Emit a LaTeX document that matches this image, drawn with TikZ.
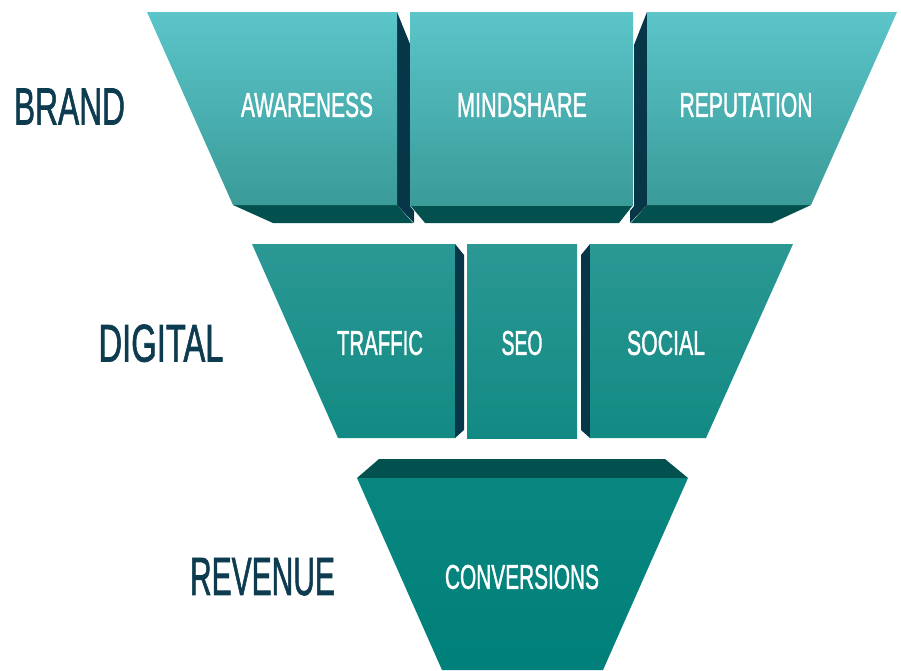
\documentclass[tikz,border=0pt]{standalone}
\usepackage{fontspec}
\setmainfont{Liberation Sans}
\newfontfamily\lblfont{Liberation Sans}[FakeBold=1.6]
\definecolor{navy}{HTML}{073649}
\definecolor{slab}{HTML}{03514F}
\definecolor{topA}{HTML}{5BC5C9}
\definecolor{topB}{HTML}{3A9B99}
\definecolor{midA}{HTML}{2B9894}
\definecolor{midB}{HTML}{128A83}
\definecolor{botA}{HTML}{0A8680}
\definecolor{botB}{HTML}{00807A}
\definecolor{ink}{HTML}{0D3B4F}
\tikzset{
  toprow/.style={top color=topA,bottom color=topB},
  midrow/.style={top color=midA,bottom color=midB},
  botrow/.style={top color=botA,bottom color=botB},
  sidepanel/.style={fill=navy},
  slabpanel/.style={fill=slab},
  stagelbl/.style={text=white,inner sep=0pt,font=\lblfont},
  tierlbl/.style={text=ink,inner sep=0pt,font=\lblfont}
}
\newcommand{\fitlbl}[3]{\resizebox{#1pt}{#2pt}{#3}}
\begin{document}
\begin{tikzpicture}[x=1pt,y=-1pt]
\useasboundingbox (0,0) rectangle (901,670);
% ---------- top row: brand ----------
\fill[slabpanel] (233,205) -- (397,205) -- (413,223) -- (273,223) -- cycle;
\fill[sidepanel] (397,12) -- (410,44) -- (410,206) -- (414,211) -- (414,223) -- (397,205) -- cycle;
\shade[toprow] (147,12) -- (397,12) -- (397,205) -- (233,205) -- cycle;
\fill[slabpanel] (410,205) -- (633,205) -- (619,223) -- (425,223) -- cycle;
\shade[toprow] (410,12) -- (633,12) -- (633,205) -- (410,205) -- cycle;
\fill[slabpanel] (647,205) -- (811,205) -- (772,223) -- (631,223) -- cycle;
\fill[sidepanel] (647,12) -- (634,45) -- (634,206) -- (630,211) -- (630,223) -- (647,205) -- cycle;
\shade[toprow] (647,12) -- (897,12) -- (811,205) -- (647,205) -- cycle;
% ---------- middle row: digital ----------
\shade[midrow] (252,244) -- (455,244) -- (455,438) -- (338,438) -- cycle;
\fill[sidepanel] (455,244) -- (464,255) -- (464,430) -- (455,438) -- cycle;
\shade[midrow] (467,244) -- (577,244) -- (577,438) -- (467,438) -- cycle;
\fill[sidepanel] (590,244) -- (581,255) -- (581,430) -- (590,438) -- cycle;
\shade[midrow] (590,244) -- (793,244) -- (706,438) -- (590,438) -- cycle;
% ---------- bottom row: revenue ----------
\fill[slabpanel] (379,459) -- (665,459) -- (688,478) -- (357,478) -- cycle;
\shade[botrow] (357,478) -- (688,478) -- (603,670) -- (442,670) -- cycle;
% ---------- labels ----------
\node[stagelbl] (awareness) at (307,105) {\fitlbl{132}{24}{AWARENESS}};
\node[stagelbl] (mindshare) at (522,105) {\fitlbl{130}{24}{MINDSHARE}};
\node[stagelbl] (reputation) at (746,105) {\fitlbl{133}{24}{REPUTATION}};
\node[stagelbl] (traffic) at (380,343) {\fitlbl{86}{24}{TRAFFIC}};
\node[stagelbl] (seo) at (522,343) {\fitlbl{41}{24}{SEO}};
\node[stagelbl] (social) at (666,343) {\fitlbl{78}{24}{SOCIAL}};
\node[stagelbl] (conversions) at (522,577) {\fitlbl{154}{24}{CONVERSIONS}};
\node[tierlbl] (brand) at (69.5,106.5) {\fitlbl{111}{36}{BRAND}};
\node[tierlbl] (digital) at (161,343.3) {\fitlbl{125}{37}{DIGITAL}};
\node[tierlbl] (revenue) at (262.5,576.7) {\fitlbl{145}{37}{REVENUE}};
\end{tikzpicture}
\end{document}
